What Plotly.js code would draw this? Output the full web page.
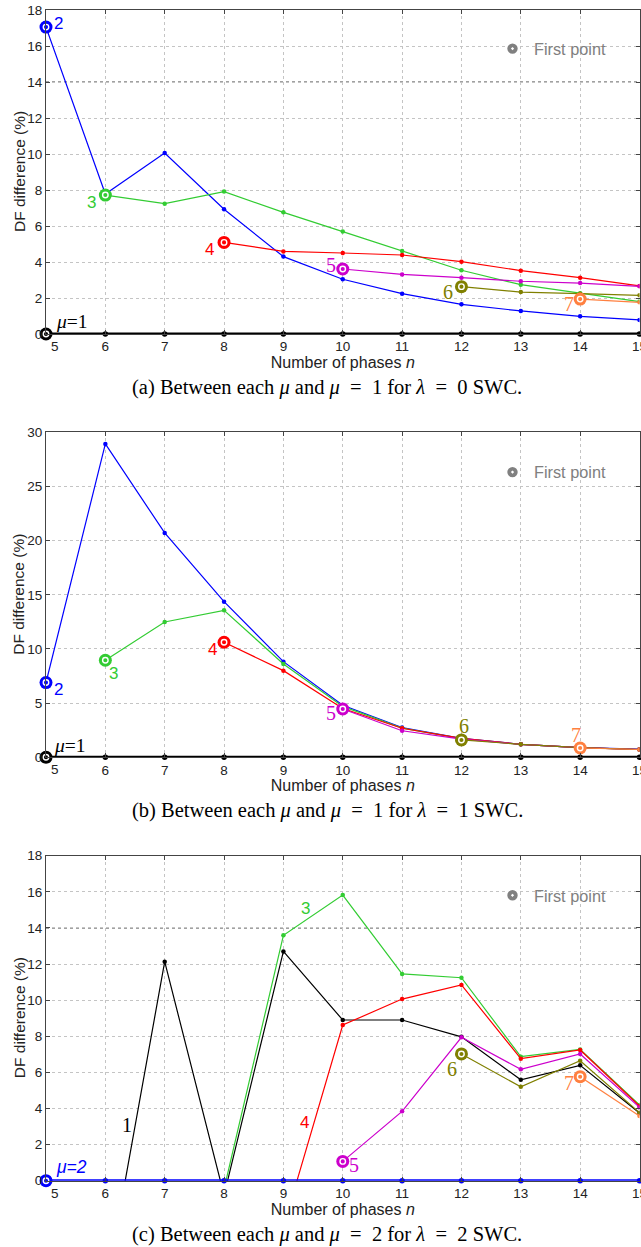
<!DOCTYPE html>
<html><head><meta charset="utf-8">
<script src="https://cdn.plot.ly/plotly-3.0.1.min.js"></script>
<style>html,body{margin:0;padding:0;background:#fff;} #chart{width:641px;height:1247px;}</style>
</head><body><div id="chart"></div>
<script>
// ---------------- DATA ----------------
const nValues = [5,6,7,8,9,10,11,12,13,14,15];
const muNames = ['1','2','3','4','5','6','7'];
const startN  = [5,5,6,8,10,12,14];     // first n of each mu series
const threshold = 14;                    // dotted reference level (panels a, c)

// Panel (a): lambda = 0, difference to mu = 1
const a_mu1 = [0,0,0,0,0,0,0,0,0,0,0];
const a_mu2 = [17.05,7.78,10.05,6.93,4.30,3.04,2.24,1.65,1.28,0.98,0.78];
const a_mu3 = [7.72,7.24,7.91,6.76,5.69,4.61,3.54,2.74,2.26,1.80];
const a_mu4 = [5.09,4.59,4.50,4.39,4.02,3.52,3.13,2.67];
const a_mu5 = [3.61,3.31,3.13,2.93,2.83,2.65];
const a_mu6 = [2.63,2.33,2.24,2.15];
const a_mu7 = [1.94,1.76];

// Panel (b): lambda = 1, difference to mu = 1
const b_mu1 = [0,0,0,0,0,0,0,0,0,0,0];
const b_mu2 = [6.90,28.93,20.71,14.37,8.83,4.80,2.75,1.75,1.20,0.90,0.75];
const b_mu3 = [8.96,12.49,13.57,8.62,4.70,2.70,1.72,1.20,0.90,0.72];
const b_mu4 = [10.62,8.00,4.50,2.68,1.75,1.20,0.90,0.72];
const b_mu5 = [4.46,2.45,1.68,1.20,0.90,0.72];
const b_mu6 = [1.60,1.20,0.90,0.72];
const b_mu7 = [0.86,0.72];

// Panel (c): lambda = 2, difference to mu = 2 (negative values fall below the axis)
const c_mu1 = [-8.00,-6.10,12.13,-0.80,12.70,8.90,8.90,7.97,5.59,6.39,3.75];
const c_mu2 = [0,0,0,0,0,0,0,0,0,0,0];
const c_mu3 = [-4.00,-2.00,-0.46,13.59,15.82,11.45,11.24,6.87,7.27,4.19];
const c_mu4 = [-3.00,-2.56,8.62,10.06,10.84,6.76,7.24,4.14];
const c_mu5 = [1.07,3.84,7.94,6.17,7.02,4.06];
const c_mu6 = [7.02,5.20,6.64,3.77];
const c_mu7 = [5.76,3.58];

const EQ = '\u2002=\u2002';
const captions = [
  '(a) Between each <i>μ</i> and <i>μ</i>'+EQ+'1 for <i>λ</i>'+EQ+'0 SWC.',
  '(b) Between each <i>μ</i> and <i>μ</i>'+EQ+'1 for <i>λ</i>'+EQ+'1 SWC.',
  '(c) Between each <i>μ</i> and <i>μ</i>'+EQ+'2 for <i>λ</i>'+EQ+'2 SWC.'
];
const xTitle = 'Number of phases <i>n</i>';
const yTitle = 'DF difference (%)';
const legendName = 'First point';

// ---------------- STYLE ----------------
const W = 641, H = 1247;
const colors = ['#000000','#0000ff','#33cc33','#ff0000','#cc00cc','#808000','#ff8040'];
const SANS = 'Liberation Sans, Arial, sans-serif';
const SERIF = 'Liberation Serif, Times New Roman, serif';
const xDom = [46/W, 639.5/W];
const panels = [
  {series:[a_mu1,a_mu2,a_mu3,a_mu4,a_mu5,a_mu6,a_mu7], ref:0, top:10, bot:334, ymax:18, dtick:2, thr:true,
   capY:388,
   labels:{
     0:{text:'<i>μ</i>=1', dx:26, dy:-12, font:SERIF, size:19.5},
     1:{dx:12, dy:-4, font:SANS, size:17},
     2:{dx:-13.5, dy:7.5, font:SANS, size:17},
     3:{dx:-15, dy:7, font:SANS, size:17},
     4:{dx:-12, dy:-4, font:SERIF, size:20},
     5:{dx:-13.5, dy:5, font:SERIF, size:20},
     6:{dx:-11, dy:4.5, font:SERIF, size:20}
   }},
  {series:[b_mu1,b_mu2,b_mu3,b_mu4,b_mu5,b_mu6,b_mu7], ref:0, top:432.3, bot:757.3, ymax:30, dtick:5, thr:false,
   capY:810.5,
   labels:{
     0:{text:'<i>μ</i>=1', dx:24, dy:-12, font:SERIF, size:19.5},
     1:{dx:12, dy:6.5, font:SANS, size:17},
     2:{dx:8, dy:13.5, font:SANS, size:17},
     3:{dx:-12, dy:7.5, font:SANS, size:17},
     4:{dx:-12, dy:4.3, font:SERIF, size:20},
     5:{dx:2.7, dy:-13.5, font:SERIF, size:20},
     6:{dx:-4, dy:-13, font:SERIF, size:20}
   }},
  {series:[c_mu1,c_mu2,c_mu3,c_mu4,c_mu5,c_mu6,c_mu7], ref:1, top:855.7, bot:1180.7, ymax:18, dtick:2, thr:true,
   capY:1234,
   labels:{
     0:{at:[6.37,3.1], font:SERIF, size:20},
     1:{text:'<i>μ=2</i>', dx:25, dy:-14, font:SANS, size:17.5},
     2:{at:[9.38,15.08], font:SANS, size:17},
     3:{at:[9.35,3.23], font:SANS, size:17},
     4:{dx:11.5, dy:3.7, font:SERIF, size:20},
     5:{dx:-9.3, dy:15.3, font:SERIF, size:20},
     6:{dx:-11.5, dy:6.6, font:SERIF, size:20}
   }}
];

const traces = [], annotations = [], shapes = [];
const layout = {
  width: W, height: H, margin:{l:0,r:0,t:0,b:0},
  paper_bgcolor:'#fff', plot_bgcolor:'#fff', showlegend:true,
  annotations, shapes
};
const tickFont = {family:SANS, size:13.5, color:'#222'};

panels.forEach((p, k) => {
  const sfx = k === 0 ? '' : String(k+1);
  const xa = 'x'+sfx, ya = 'y'+sfx;
  const yTicks = [];
  for (let v = 0; v <= p.ymax; v += p.dtick) yTicks.push(v);
  // first x tick label is drawn separately (nudged right, clear of the y "0")
  const tickText = nValues.map((n,i) => i===0 ? '' : String(n));
  const axCommon = {
    showline:true, linecolor:'#444', linewidth:1, mirror:'ticks',
    ticks:'inside', ticklen:4, tickcolor:'#444', tickwidth:1,
    showgrid:true, gridcolor:'#c4c4c4', griddash:'dot', gridwidth:1,
    zeroline:false, fixedrange:true, ticklabeloverflow:'allow',
    tickfont:tickFont
  };
  layout['xaxis'+sfx] = Object.assign({}, axCommon, {
    domain: xDom, anchor: ya, range:[nValues[0], nValues[nValues.length-1]],
    tickmode:'array', tickvals:nValues, ticktext:tickText,
    title:{text:xTitle, font:{family:SANS, size:16, color:'#222'}, standoff:2}
  });
  layout['yaxis'+sfx] = Object.assign({}, axCommon, {
    domain:[1-p.bot/H, 1-p.top/H], anchor: xa, range:[0, p.ymax],
    tickmode:'array', tickvals:yTicks
  });
  annotations.push({xref:xa, yref:ya, x:nValues[0], y:0, text:String(nValues[0]), showarrow:false,
    xanchor:'center', yanchor:'top', xshift:9, yshift:-3, font:tickFont});
  // y title
  annotations.push({xref:'paper', yref:'paper', x:xDom[0], y:1-(p.top+p.bot)/2/H, xshift:-27,
    xanchor:'center', yanchor:'middle', textangle:-90, showarrow:false, text:yTitle,
    font:{family:SANS, size:15.5, color:'#222'}});

  if (p.thr) {
    shapes.push({type:'line', xref:xa+' domain', yref:ya, x0:0, x1:1, y0:threshold, y1:threshold,
      line:{color:'#444', width:1.2, dash:'dot'}, layer:'below'});
  }

  // lines: non-reference series first, reference (zero) series last
  const order = p.series.map((_,i)=>i).filter(i=>i!==p.ref).concat([p.ref]);
  order.forEach(i => {
    const ys = p.series[i];
    const xs = nValues.slice(nValues.indexOf(startN[i]));
    const isRef = i === p.ref;
    traces.push({
      x: xs, y: ys, xaxis: xa, yaxis: ya, type:'scatter', mode:'lines+markers',
      line:{color:colors[i], width: isRef ? 3 : 1.2},
      marker:{color:colors[i], size: isRef ? 5.5 : 4.5},
      cliponaxis: !isRef, showlegend:false, hoverinfo:'skip'
    });
  });
  // first-point markers (only those inside the visible range)
  p.series.forEach((ys, i) => {
    if (ys[0] < 0) return;
    traces.push({x:[startN[i]], y:[ys[0]], xaxis:xa, yaxis:ya, type:'scatter', mode:'markers',
      marker:{symbol:'circle', size:13, color:colors[i]}, cliponaxis:false, showlegend:false, hoverinfo:'skip'});
    traces.push({x:[startN[i]], y:[ys[0]], xaxis:xa, yaxis:ya, type:'scatter', mode:'markers',
      marker:{symbol:'circle-open', size:5.5, color:'#ffffff', line:{width:1.4}}, cliponaxis:false, showlegend:false, hoverinfo:'skip'});
  });
  // legend entry
  const lg = k === 0 ? 'legend' : 'legend'+(k+1);
  traces.push({x:[null], y:[null], xaxis:xa, yaxis:ya, type:'scatter', mode:'markers', name:legendName,
    marker:{symbol:'circle-dot', size:12, color:'#808080', line:{color:'#ffffff', width:1.6}},
    showlegend:true, legend:lg, hoverinfo:'skip'});
  const legTop = [49, 472.5, 895.7][k];
  layout[lg] = {x: 491/W, xanchor:'left', y: 1 - legTop/H, yanchor:'middle', itemwidth:33,
    bgcolor:'rgba(0,0,0,0)', borderwidth:0, font:{family:SANS, size:16.3, color:'#808080'}};

  // series labels
  Object.keys(p.labels).forEach(key => {
    const i = +key, L = p.labels[key];
    const a = {xref:xa, yref:ya, showarrow:false, text: L.text || muNames[i],
      font:{family:L.font, size:L.size, color:colors[i]}, xanchor:'center', yanchor:'middle'};
    if (L.at) { a.x = L.at[0]; a.y = L.at[1]; }
    else { a.x = startN[i]; a.y = p.series[i][0]; a.xshift = L.dx; a.yshift = -L.dy; }
    annotations.push(a);
  });

  // caption
  annotations.push({xref:'paper', yref:'paper', x:327/W, y:1 - p.capY/H, xanchor:'center', yanchor:'middle',
    showarrow:false, text:captions[k], font:{family:SERIF, size:20.5, color:'#000'}});
});

Plotly.newPlot('chart', traces, layout, {displayModeBar:false, staticPlot:true});
</script>
</body></html>
